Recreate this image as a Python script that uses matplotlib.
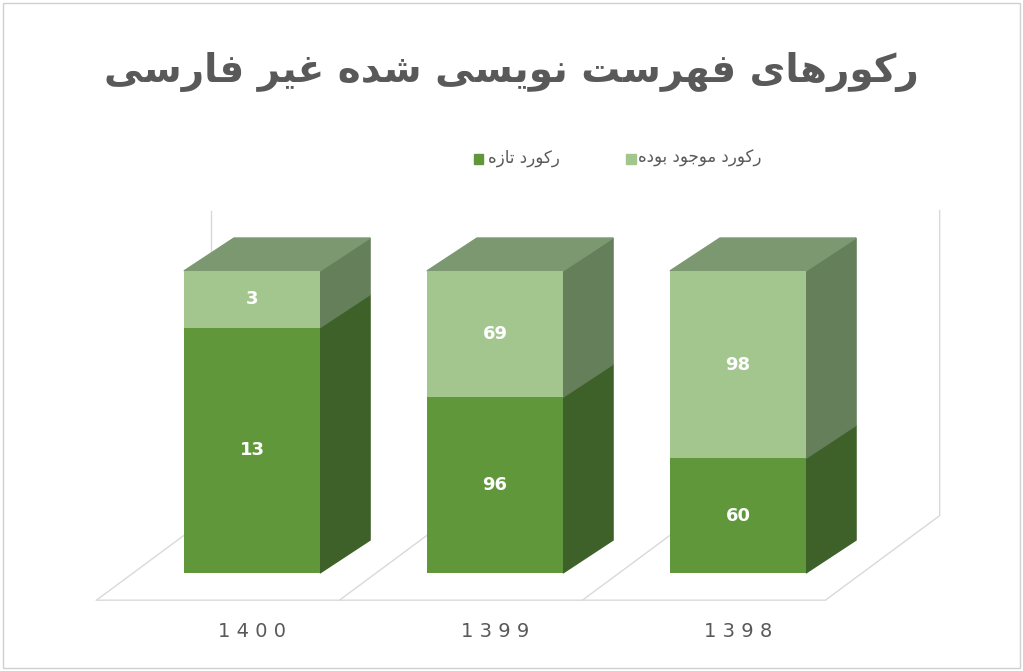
import matplotlib.pyplot as plt
from matplotlib.patches import Polygon, Rectangle

plt.rcParams['font.family'] = ['DejaVu Sans']

years = ['1400', '1399', '1398']
new_records = [13, 96, 60]
existing_records = [3, 69, 98]
title = 'رکورهای فهرست نویسی شده غیر فارسی'
label_new = 'رکورد تازه'
label_existing = 'رکورد موجود بوده'

# minimal Persian shaping: (isolated, final, initial, medial)
FORMS = {
    'ا': (0xFE8D, 0xFE8E, None, None), 'ب': (0xFE8F, 0xFE90, 0xFE91, 0xFE92),
    'ت': (0xFE95, 0xFE96, 0xFE97, 0xFE98), 'ج': (0xFE9D, 0xFE9E, 0xFE9F, 0xFEA0),
    'د': (0xFEA9, 0xFEAA, None, None), 'ر': (0xFEAD, 0xFEAE, None, None),
    'ز': (0xFEAF, 0xFEB0, None, None), 'س': (0xFEB1, 0xFEB2, 0xFEB3, 0xFEB4),
    'ش': (0xFEB5, 0xFEB6, 0xFEB7, 0xFEB8), 'غ': (0xFECD, 0xFECE, 0xFECF, 0xFED0),
    'ف': (0xFED1, 0xFED2, 0xFED3, 0xFED4), 'م': (0xFEE1, 0xFEE2, 0xFEE3, 0xFEE4),
    'ن': (0xFEE5, 0xFEE6, 0xFEE7, 0xFEE8), 'ه': (0xFEE9, 0xFEEA, 0xFEEB, 0xFEEC),
    'و': (0xFEED, 0xFEEE, None, None), 'ک': (0xFB8E, 0xFB8F, 0xFB90, 0xFB91),
    'ی': (0xFBFC, 0xFBFD, 0xFBFE, 0xFBFF),
}


def shape(s):
    out = []
    for i, c in enumerate(s):
        if c not in FORMS:
            out.append(c)
            continue
        prev = s[i - 1] if i > 0 else ' '
        nxt = s[i + 1] if i < len(s) - 1 else ' '
        jp = prev in FORMS and FORMS[prev][2] is not None
        jn = FORMS[c][2] is not None and nxt in FORMS
        f = FORMS[c]
        if jp and jn:
            code = f[3]
        elif jp:
            code = f[1]
        elif jn:
            code = f[2]
        else:
            code = f[0]
        out.append(chr(code))
    return ''.join(out)[::-1]


fig = plt.figure(figsize=(10.23, 6.71), dpi=100)
ax = fig.add_axes([0, 0, 1, 1])
ax.set_xlim(-1.037, 3.173)
ax.set_ylim(-0.3245, 1.897)
ax.axis('off')

# outer border
fig.patches.append(Rectangle((0.003, 0.005), 0.994, 0.99, transform=fig.transFigure,
                             fill=False, edgecolor='#d0d0d0', lw=1))

w = 0.56
dx, dy = 0.206, 0.109
fdx, fdy = 0.47, 0.28
floor_c = '#d9d9d9'
# floor and back wall
x0, x1 = -0.64, 2.36
ax.plot([x0, x1, x1 + fdx, x1 + fdx], [-0.09, -0.09, -0.09 + fdy, 1.2], color=floor_c, lw=1)
for xs in [x0, 0.36, 1.36]:
    ax.plot([xs, xs + fdx], [-0.09, -0.09 + fdy], color=floor_c, lw=1)
ax.plot([x0 + fdx, x0 + fdx], [-0.09 + fdy, 1.2], color=floor_c, lw=1)

front = ['#5f973a', '#a3c68f']
side = ['#3d6128', '#647f5a']
top_c = '#7b9870'
for i in range(len(years)):
    total = new_records[i] + existing_records[i]
    fr = [new_records[i] / total, existing_records[i] / total]
    bottom = 0
    xl = i - w / 2
    xr = i + w / 2
    for j, f in enumerate(fr):
        ax.bar(i, f, width=w, bottom=bottom, color=front[j], zorder=3)
        ax.add_patch(Polygon([(xr, bottom), (xr + dx, bottom + dy), (xr + dx, bottom + f + dy),
                              (xr, bottom + f)], closed=True, color=side[j], zorder=2))
        val = [new_records, existing_records][j][i]
        ax.text(i, bottom + f / 2, str(val), color='white', fontsize=13, fontweight='bold',
                ha='center', va='center', zorder=4)
        bottom += f
    ax.add_patch(Polygon([(xl, 1), (xr, 1), (xr + dx, 1 + dy), (xl + dx, 1 + dy)],
                         closed=True, color=top_c, zorder=2))
    ax.text(i, -0.195, '  '.join(years[i]).replace('  ', ' '), ha='center', va='center',
            fontsize=14, color='#595959')

fig.text(0.5, 0.893, shape(title), ha='center', va='center', fontsize=28,
         fontweight='bold', color='#595959')

# legend
for sx, tx, col, lab in [(0.463, 0.477, front[0], label_new), (0.612, 0.624, front[1], label_existing)]:
    fig.patches.append(Rectangle((sx, 0.756), 0.0095, 0.0145, transform=fig.transFigure,
                                 color=col))
    fig.text(tx, 0.764, shape(lab), ha='left', va='center', fontsize=12, color='#595959')

fig.savefig('out.png', dpi=100)
